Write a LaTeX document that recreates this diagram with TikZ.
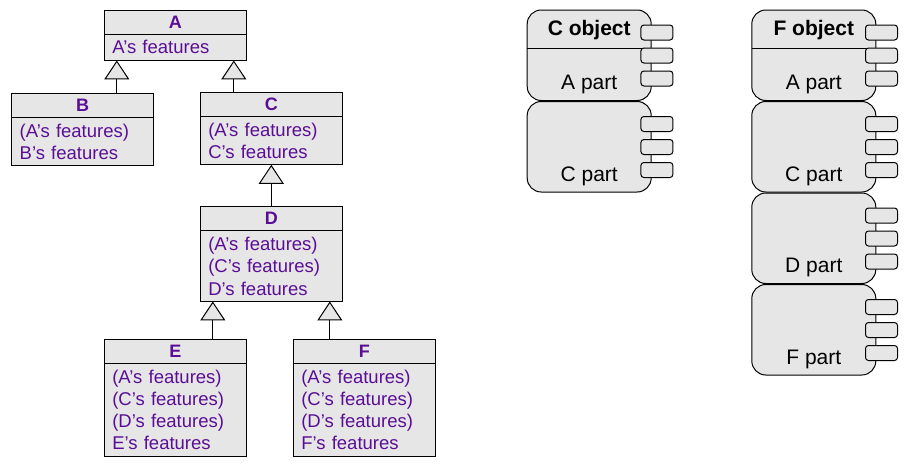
\documentclass[tikz,border=0pt]{standalone}
\usepackage{fontspec}
\setmainfont{Liberation Sans}
\usetikzlibrary{positioning,arrows.meta,calc}
\definecolor{boxgray}{HTML}{E6E6E6}
\definecolor{classtext}{RGB}{90,14,150}

\begin{document}
\begin{tikzpicture}[
    x=1pt, y=-1pt,
    line width=1pt,
    classhead/.style={
        draw, fill=boxgray,
        anchor=north west,
        minimum width=142pt, minimum height=24pt,
        inner sep=0pt, outer sep=0pt,
        text=classtext,
        font=\fontsize{18}{22.3}\selectfont\bfseries
    },
    classbody/.style={
        draw, fill=boxgray,
        below=0pt of #1,
        text width=126pt, align=left,
        inner xsep=8pt, inner ysep=6.3pt, outer sep=0pt,
        text=classtext,
        font=\fontsize{18.5}{22.3}\selectfont
    },
    inherit/.style={-{Triangle[length=19pt,width=25pt,fill=boxgray]}},
    objpart/.style={
        draw, fill=boxgray,
        rounded corners=14pt,
        minimum width=124pt, minimum height=90.5pt,
        inner sep=0pt, outer sep=0pt
    },
    objhead/.style={
        anchor=north,
        minimum width=124pt, minimum height=38.3pt,
        inner sep=0pt, outer sep=0pt,
        text depth=2pt,
        font=\fontsize{21}{25}\selectfont\bfseries
    },
    partlabel/.style={anchor=base, font=\fontsize{21}{25}\selectfont},
    tab/.style={
        draw, fill=boxgray,
        rounded corners=3pt,
        minimum width=32pt, minimum height=15pt,
        inner sep=0pt
    }
  ]
  \useasboundingbox (0,0) rectangle (910,469);

  % class hierarchy
  \node [classhead] (A) at (104.3,10.3) {A};
  \node [classbody=A] (Afeat) {A's features};
  \node [classhead] (B) at (11.7,93.3) {B};
  \node [classbody=B] (Bfeat) {(A's features)\\B's features};
  \node [classhead] (C) at (200.3,92.3) {C};
  \node [classbody=C] (Cfeat) {(A's features)\\C's features};
  \node [classhead] (D) at (200.3,206.7) {D};
  \node [classbody=D] (Dfeat) {(A's features)\\(C's features)\\D's features};
  \node [classhead] (E) at (104.3,339.3) {E};
  \node [classbody=E] (Efeat) {(A's features)\\(C's features)\\(D's features)\\E's features};
  \node [classhead] (F) at (293.3,339.3) {F};
  \node [classbody=F] (Ffeat) {(A's features)\\(C's features)\\(D's features)\\F's features};

  \coordinate (A-l) at ([xshift=12.5pt]Afeat.south west);
  \coordinate (A-r) at ([xshift=-12.5pt]Afeat.south east);
  \coordinate (D-l) at ([xshift=12.5pt]Dfeat.south west);
  \coordinate (D-r) at ([xshift=-12.5pt]Dfeat.south east);

  \draw [inherit] (B.north -| A-l) -- (A-l);
  \draw [inherit] (C.north -| A-r) -- (A-r);
  \draw [inherit] (D.north) -- (Cfeat.south);
  \draw [inherit] (E.north -| D-l) -- (D-l);
  \draw [inherit] (F.north -| D-r) -- (D-r);

  % object layouts
  \node [objpart, anchor=north] (Ca) at (589.2,10) {};
  \node [objpart, below=1pt of Ca] (Cc) {};
  \node [objpart, anchor=north] (Fa) at (813.8,10) {};
  \node [objpart, below=1pt of Fa] (Fc) {};
  \node [objpart, below=1pt of Fc] (Fd) {};
  \node [objpart, below=1pt of Fd] (Ff) {};

  \node [objhead] (Chead) at (Ca.north) {C object};
  \draw (Chead.south west) -- (Chead.south east);
  \node [objhead] (Fhead) at (Fa.north) {F object};
  \draw (Fhead.south west) -- (Fhead.south east);

  \node [partlabel] (Ca-label) at ([yshift=11pt]Ca.south) {A part};
  \node [partlabel] (Cc-label) at ([yshift=11pt]Cc.south) {C part};
  \node [partlabel] (Fa-label) at ([yshift=11pt]Fa.south) {A part};
  \node [partlabel] (Fc-label) at ([yshift=11pt]Fc.south) {C part};
  \node [partlabel] (Fd-label) at ([yshift=11pt]Fd.south) {D part};
  \node [partlabel] (Ff-label) at ([yshift=11pt]Ff.south) {F part};

  \foreach \blk in {Ca,Cc,Fa,Fc,Fd,Ff}
    \foreach \i in {0,1,2}
      \node [tab] (\blk-tab\i) at ($(\blk.north east)+(5.7,{22.5+23*\i})$) {};
\end{tikzpicture}
\end{document}
